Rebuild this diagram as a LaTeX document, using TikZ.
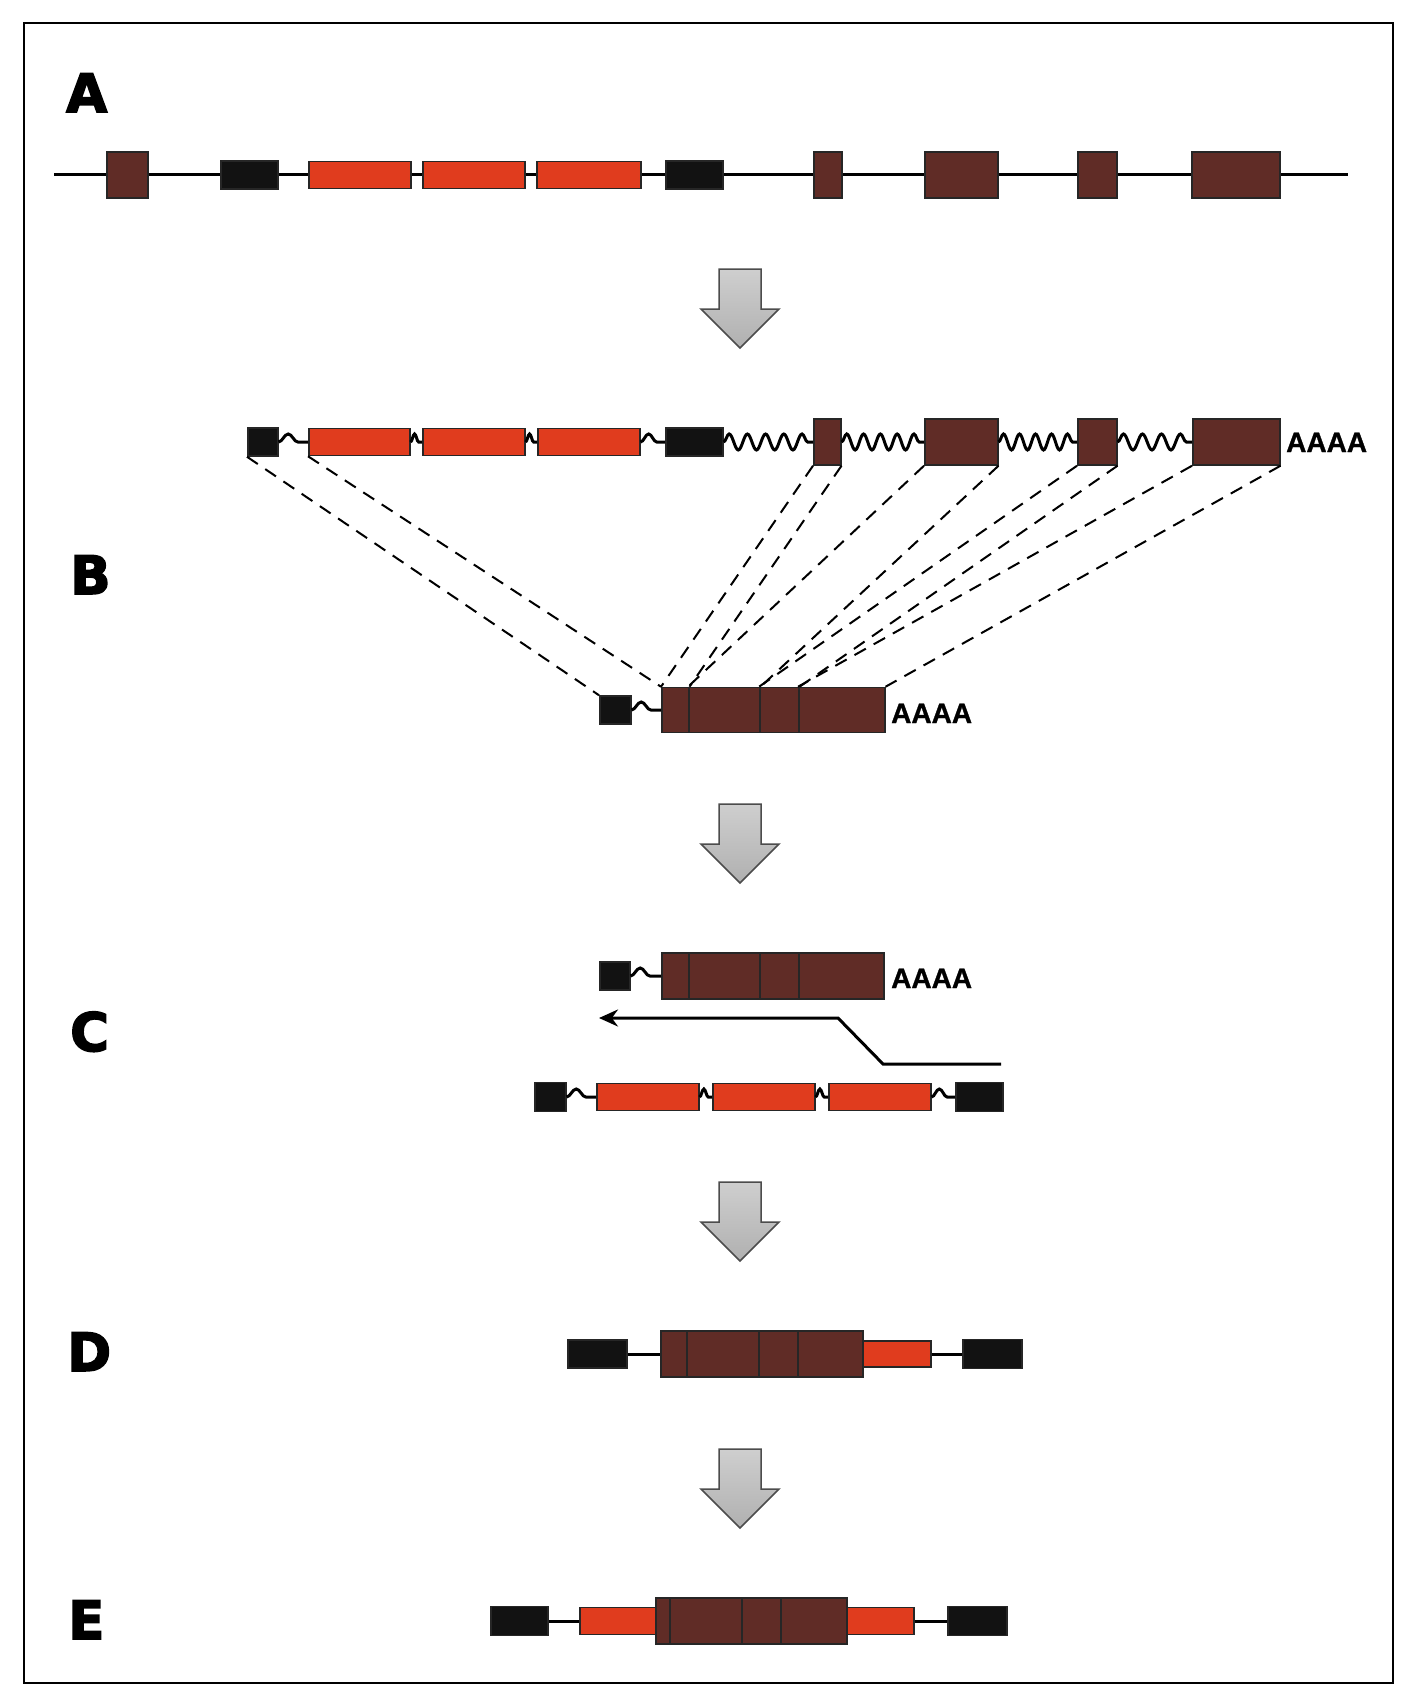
\documentclass[tikz,border=0pt]{standalone}
\usepackage{fontspec}
\setmainfont{Liberation Sans}
\newfontfamily\panelfont{DejaVu Sans Bold}[FakeBold=3]
\newfontfamily\tailfont{Liberation Sans Bold}[FakeBold=1]
\usetikzlibrary{arrows.meta,decorations.pathmorphing}
\definecolor{exonbrown}{RGB}{96,44,38}
\definecolor{repred}{RGB}{224,60,30}
\definecolor{capblack}{RGB}{18,18,18}

\begin{document}
\begin{tikzpicture}[
  x=1pt, y=-1pt,
  box/.style={draw=black!85, line width=1.5pt, inner sep=0pt, anchor=west},
  exon/.style={box, fill=exonbrown, minimum height=46pt},
  rep/.style={box, fill=repred, minimum height=27pt},
  capbox/.style={box, fill=capblack, minimum height=28pt},
  wave/.style={decorate, decoration={snake, amplitude=8pt, segment length=#1}, line width=3pt},
  link/.style={line width=3pt},
  proj/.style={line width=2pt, dash pattern=on 13pt off 9pt},
  polya/.style={inner sep=0pt, anchor=base west, font=\tailfont\fontsize{28}{28}\selectfont},
  panel/.style={inner sep=0pt, anchor=base west, font=\panelfont\fontsize{53}{53}\selectfont},
  grayarr/.style={draw=black!70, line width=1.5pt, top color=gray!38, bottom color=gray!62}
]
  \useasboundingbox (0,0) rectangle (1412,1704);
  \draw[line width=2pt] (24,23) rectangle (1393,1683);

  % panel letters
  \node[panel] (lA) at (66,112) {A};
  \node[panel] (lB) at (70,594) {B};
  \node[panel] (lC) at (70,1051) {C};
  \node[panel] (lD) at (67,1371) {D};
  \node[panel] (lE) at (68,1639) {E};

  % step arrows
  \foreach \t in {269,804,1182,1449} {
    \draw[grayarr] (719,\t) -- (761,\t) -- (761,\t+40) -- (779,\t+40)
      -- (740,\t+79) -- (701,\t+40) -- (719,\t+40) -- cycle;
  }

  % A: gene
  \coordinate (a_l) at (54,175);
  \coordinate (a_r) at (1348,175);
  \draw[link] (a_l) -- (a_r);
  \node[exon, minimum width=41pt] (a_e1) at (106,175) {};
  \node[capbox, minimum width=57pt] (a_c1) at (220,175) {};
  \node[rep, minimum width=102pt] (a_r1) at (308,175) {};
  \node[rep, minimum width=102pt] (a_r2) at (422,175) {};
  \node[rep, minimum width=104pt] (a_r3) at (536,175) {};
  \node[capbox, minimum width=57pt] (a_c2) at (665,175) {};
  \node[exon, minimum width=28pt] (a_e2) at (813,175) {};
  \node[exon, minimum width=73pt] (a_e3) at (924,175) {};
  \node[exon, minimum width=39pt] (a_e4) at (1077,175) {};
  \node[exon, minimum width=88pt] (a_e5) at (1191,175) {};

  % B: primary transcript
  \node[capbox, minimum width=30pt] (b_c1) at (247,442) {};
  \node[rep, minimum width=101pt] (b_r1) at (308,442) {};
  \node[rep, minimum width=102pt] (b_r2) at (422,442) {};
  \node[rep, minimum width=102pt] (b_r3) at (537,442) {};
  \node[capbox, minimum width=57pt] (b_c2) at (665,442) {};
  \node[exon, minimum width=27pt] (b_e2) at (813,442) {};
  \node[exon, minimum width=73pt] (b_e3) at (924,442) {};
  \node[exon, minimum width=39pt] (b_e4) at (1077,442) {};
  \node[exon, minimum width=87pt] (b_e5) at (1192,442) {};
  \node[polya] (b_tail) at (1286,452) {AAAA};
  \draw[wave=31pt] (b_c1.east) -- (b_r1.west);
  \draw[wave=13pt] (b_r1.east) -- (b_r2.west);
  \draw[wave=13pt] (b_r2.east) -- (b_r3.west);
  \draw[wave=26pt] (b_r3.east) -- (b_c2.west);
  \draw[wave=18.2pt] (b_c2.east) -- (b_e2.west);
  \draw[wave=16.8pt] (b_e2.east) -- (b_e3.west);
  \draw[wave=16pt] (b_e3.east) -- (b_e4.west);
  \draw[wave=19pt] (b_e4.east) -- (b_e5.west);

  % B: spliced mRNA
  \node[capbox, minimum width=31pt] (b_cap) at (599,710) {};
  \node[exon, minimum width=27pt, minimum height=45pt] (b_m2) at (661,710) {};
  \node[exon, minimum width=71pt, minimum height=45pt] (b_m3) at (688,710) {};
  \node[exon, minimum width=39pt, minimum height=45pt] (b_m4) at (759,710) {};
  \node[exon, minimum width=86pt, minimum height=45pt] (b_m5) at (798,710) {};
  \node[polya] (b_mtail) at (891,723) {AAAA};
  \draw[wave=31pt] (b_cap.east) -- (b_m2.west);

  % B: splicing projections
  \draw[proj] (b_c1.south west) -- (b_cap.north west);
  \draw[proj] (b_r1.south west) -- (b_m2.north west);
  \draw[proj] (b_e2.south west) -- (b_m2.north west);
  \draw[proj] (b_e2.south east) -- (b_m2.north east);
  \draw[proj] (b_e3.south west) -- (b_m3.north west);
  \draw[proj] (b_e3.south east) -- (b_m3.north east);
  \draw[proj] (b_e4.south west) -- (b_m4.north west);
  \draw[proj] (b_e4.south east) -- (b_m4.north east);
  \draw[proj] (b_e5.south west) -- (b_m5.north west);
  \draw[proj] (b_e5.south east) -- (b_m5.north east);

  % C: mRNA template
  \node[capbox, minimum width=30pt] (c_cap) at (599,976) {};
  \node[exon, minimum width=27pt] (c_m2) at (661,976) {};
  \node[exon, minimum width=71pt] (c_m3) at (688,976) {};
  \node[exon, minimum width=39pt] (c_m4) at (759,976) {};
  \node[exon, minimum width=85pt] (c_m5) at (798,976) {};
  \node[polya] (c_tail) at (891,988) {AAAA};
  \draw[wave=31pt] (c_cap.east) -- (c_m2.west);

  % C: reverse transcription
  \coordinate (c_from) at (1001,1064);
  \coordinate (c_k1) at (883,1064);
  \coordinate (c_k2) at (838,1018);
  \coordinate (c_to) at (599,1018);
  \draw[line width=3pt, -{Stealth[length=19pt,width=17pt]}] (c_from) -- (c_k1) -- (c_k2) -- (c_to);

  % C: transcript with repeats
  \node[capbox, minimum width=31pt, minimum height=29pt] (c_c1) at (534,1097) {};
  \node[rep, minimum width=102pt] (c_r1) at (596,1097) {};
  \node[rep, minimum width=102pt] (c_r2) at (712,1097) {};
  \node[rep, minimum width=102pt] (c_r3) at (828,1097) {};
  \node[capbox, minimum width=47pt, minimum height=29pt] (c_c2) at (955,1097) {};
  \draw[wave=31pt] (c_c1.east) -- (c_r1.west);
  \draw[wave=14pt] (c_r1.east) -- (c_r2.west);
  \draw[wave=14pt] (c_r2.east) -- (c_r3.west);
  \draw[wave=25pt] (c_r3.east) -- (c_c2.west);

  % D: retrocopy
  \node[capbox, minimum width=59pt] (d_c1) at (567,1354) {};
  \node[exon, minimum width=26pt] (d_e1) at (660,1354) {};
  \node[exon, minimum width=72pt] (d_e2) at (686,1354) {};
  \node[exon, minimum width=39pt] (d_e3) at (758,1354) {};
  \node[exon, minimum width=65pt] (d_e4) at (797,1354) {};
  \node[rep, minimum width=68pt, minimum height=26pt] (d_r1) at (862,1354) {};
  \node[capbox, minimum width=59pt, minimum height=29pt] (d_c2) at (962,1354) {};
  \draw[link] (d_c1.east) -- (d_e1.west);
  \draw[link] (d_r1.east) -- (d_c2.west);

  % E: final gene
  \node[capbox, minimum width=57pt, minimum height=29pt] (e_c1) at (490,1621) {};
  \node[rep, minimum width=76pt] (e_r1) at (579,1621) {};
  \node[exon, minimum width=14pt] (e_e1) at (655,1621) {};
  \node[exon, minimum width=72pt] (e_e2) at (669,1621) {};
  \node[exon, minimum width=39pt] (e_e3) at (741,1621) {};
  \node[exon, minimum width=66pt] (e_e4) at (780,1621) {};
  \node[rep, minimum width=67pt] (e_r2) at (846,1621) {};
  \node[capbox, minimum width=59pt, minimum height=29pt] (e_c2) at (947,1621) {};
  \draw[link] (e_c1.east) -- (e_r1.west);
  \draw[link] (e_r2.east) -- (e_c2.west);

\end{tikzpicture}
\end{document}
